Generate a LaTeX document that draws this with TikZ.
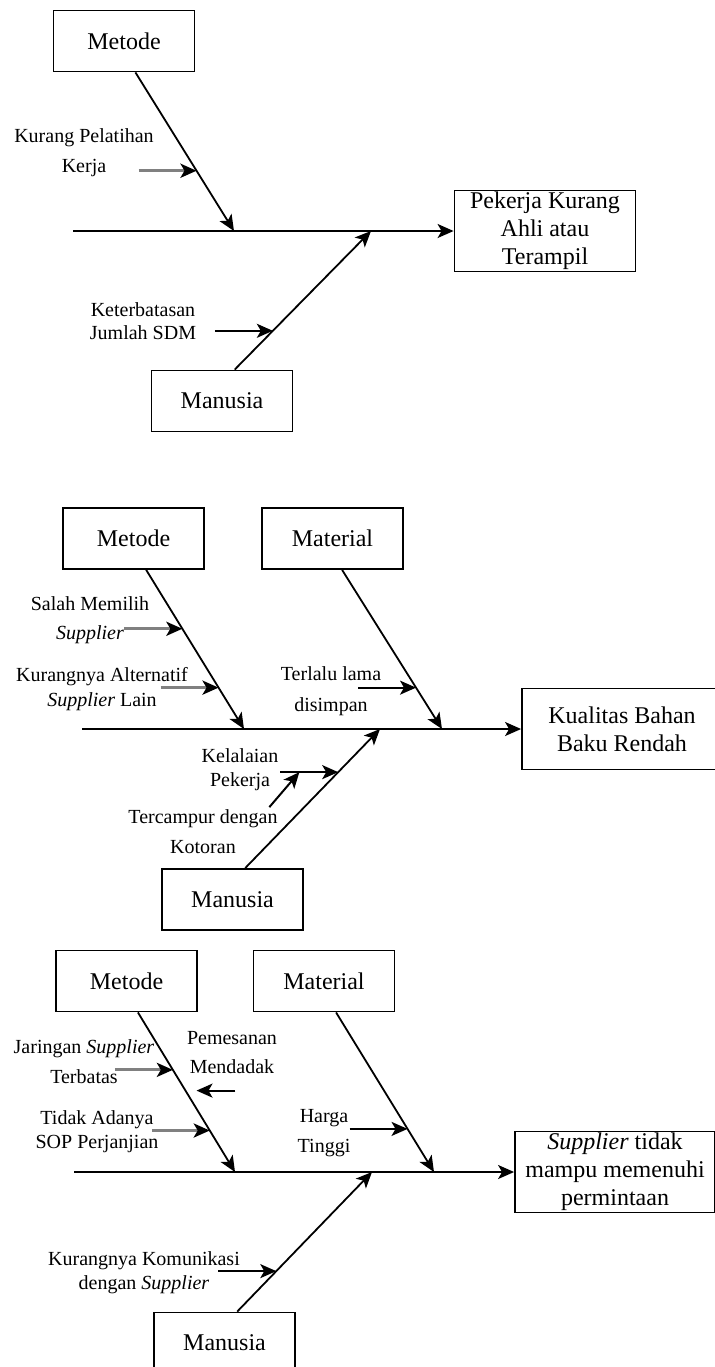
\documentclass[tikz,border=0pt]{standalone}
\usepackage{fontspec}
\setmainfont{Liberation Serif}
\usetikzlibrary{arrows.meta,calc}
\usepackage{xcolor}
\definecolor{mgray}{HTML}{808080}
\tikzstyle{cat}=[rectangle, draw=black, line width=0.9pt, minimum width=70.5pt, minimum height=30.5pt, inner sep=0pt, font=\fontsize{12}{14}\selectfont]
\tikzstyle{eff}=[cat, minimum height=40.5pt, align=center]
\tikzstyle{l1}=[line width=0.9pt]
\tikzstyle{bone}=[l1, -{Stealth[length=8pt, width=7pt, inset=2pt]}]
\tikzstyle{sub}=[bone, line width=1pt]
\tikzstyle{subg}=[sub, draw=mgray, line width=1.6pt, -{Stealth[length=8pt, width=7pt, inset=2pt, black]}]
\tikzset{lbl/.style={align=center, inner sep=0pt, font=\fontsize{10}{#1}\selectfont}, lbl/.default=15}

\begin{document}
\begin{tikzpicture}[x=0.5pt, y=-0.5pt]
    \useasboundingbox (0,0) rectangle (714,1367);

    % Pekerja Kurang Ahli
    \node[cat] at (124,41) (met1) {Metode};
    \node[eff, minimum width=90.5pt] at (545,231) (eff1) {Pekerja Kurang\\Ahli atau\\Terampil};
    \node[cat] at (222,401) (man1) {Manusia};
    \coordinate (sp1) at (73,231);
    \coordinate (j1a) at (234,231);
    \coordinate (j1b) at (371,231);
    \draw[bone] (sp1) -- (eff1.west);
    \draw[bone] (met1.-70) -- coordinate[pos=0.62] (k1a) (j1a);
    \draw[bone] (man1.68) -- coordinate[pos=0.28] (k1b) (j1b);
    \draw[subg] ($(k1a)+(-58,0)$) -- (k1a);
    \draw[sub] ($(k1b)+(-58,0)$) -- (k1b);
    \node[lbl] at (84,153) (c1a) {Kurang Pelatihan\\Kerja};
    \node[lbl=11.5] at (143,321) (c1b) {Keterbatasan\\Jumlah SDM};

    % Kualitas Bahan Baku
    \node[cat] at (133.5,538.5) (met2) {Metode};
    \node[cat] at (332.5,538.5) (mat2) {Material};
    \node[eff, minimum width=100pt] at (622,729) (eff2) {Kualitas Bahan\\Baku Rendah};
    \node[cat] at (232.5,899.5) (man2) {Manusia};
    \coordinate (sp2) at (82,729);
    \coordinate (j2a) at (244,729);
    \coordinate (j2b) at (442,729);
    \coordinate (j2c) at (380,729);
    \draw[bone] (sp2) -- (eff2.west);
    \draw[bone] (met2.-68) -- coordinate[pos=0.37] (k2a) coordinate[pos=0.74] (k2b) (j2a);
    \draw[bone] (mat2.-73) -- coordinate[pos=0.74] (k2c) (j2b);
    \draw[bone] (man2.68) -- coordinate[pos=0.69] (k2d) (j2c);
    \draw[subg] ($(k2a)+(-58,0)$) -- (k2a);
    \draw[subg] ($(k2b)+(-58,0)$) -- (k2b);
    \draw[sub] ($(k2c)+(-58,0)$) -- (k2c);
    \draw[sub] ($(k2d)+(-58,0)$) -- coordinate[pos=0.33] (k2e) (k2d);
    \draw[sub] ($(k2e)+(-30,35)$) -- (k2e);
    \node[lbl=14.5] at (90,620.5) (c2a) {Salah Memilih\\\textit{Supplier}};
    \node[lbl=12.5] at (102,689.5) (c2b) {Kurangnya Alternatif\\\textit{Supplier} Lain};
    \node[lbl=15.5] at (331,691.5) (c2c) {Terlalu lama\\disimpan};
    \node[lbl=12] at (240,770) (c2d) {Kelalaian\\Pekerja};
    \node[lbl] at (203,832) (c2e) {Tercampur dengan\\Kotoran};

    % Supplier tidak mampu
    \node[cat] at (126.5,981) (met3) {Metode};
    \node[cat] at (324,981) (mat3) {Material};
    \node[eff, minimum width=100pt] at (615,1172) (eff3) {\textit{Supplier} tidak\\mampu memenuhi\\permintaan};
    \node[cat] at (224.5,1343) (man3) {Manusia};
    \coordinate (sp3) at (74,1172);
    \coordinate (j3a) at (235,1172);
    \coordinate (j3b) at (434,1172);
    \coordinate (j3c) at (372,1172);
    \draw[bone] (sp3) -- (eff3.west);
    \draw[bone] (met3.-70) -- coordinate[pos=0.36] (k3a) coordinate[pos=0.49] (k3b) coordinate[pos=0.74] (k3c) (j3a);
    \draw[bone] (mat3.-69) -- coordinate[pos=0.73] (k3d) (j3b);
    \draw[bone] (man3.68) -- coordinate[pos=0.29] (k3e) (j3c);
    \draw[subg] ($(k3a)+(-58,0)$) -- (k3a);
    \draw[sub] ($(k3b)+(50,0)$) -- ($(k3b)+(11,0)$);
    \draw[subg] ($(k3c)+(-58,0)$) -- (k3c);
    \draw[sub] ($(k3d)+(-58,0)$) -- (k3d);
    \draw[sub] ($(k3e)+(-58,0)$) -- (k3e);
    \node[lbl] at (84,1062) (c3a) {Jaringan \textit{Supplier}\\Terbatas};
    \node[lbl=14.5] at (232,1052.5) (c3b) {Pemesanan\\Mendadak};
    \node[lbl=12] at (97,1132) (c3c) {Tidak Adanya\\SOP Perjanjian};
    \node[lbl] at (324,1133) (c3d) {Harga\\Tinggi};
    \node[lbl=12] at (144,1273) (c3e) {Kurangnya Komunikasi\\dengan \textit{Supplier}};
\end{tikzpicture}
\end{document}
